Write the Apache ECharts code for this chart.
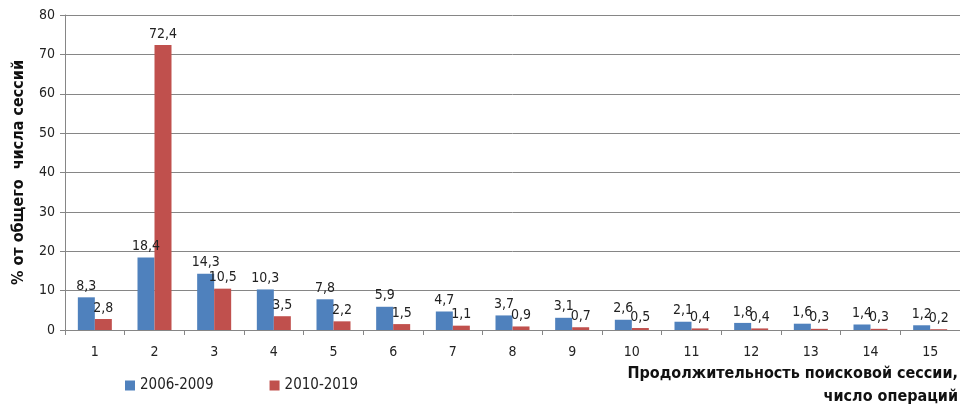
<!DOCTYPE html>
<html><head><meta charset="utf-8">
<script src="https://cdn.jsdelivr.net/npm/echarts@6/dist/echarts.min.js"></script>
<style>html,body{margin:0;padding:0;background:#fff}#c{width:960px;height:409px}</style>
</head><body><div id="c"></div>
<script>
const categories = ['1','2','3','4','5','6','7','8','9','10','11','12','13','14','15'];
const series2006 = [8.3, 18.4, 14.3, 10.3, 7.8, 5.9, 4.7, 3.7, 3.1, 2.6, 2.1, 1.8, 1.6, 1.4, 1.2];
const series2010 = [2.8, 72.4, 10.5, 3.5, 2.2, 1.5, 1.1, 0.9, 0.7, 0.5, 0.4, 0.4, 0.3, 0.3, 0.2];
const seriesNames = ['2006-2009', '2010-2019'];
const yAxisName = '% от общего  числа сессий';
const xAxisNameLines = ['Продолжительность поисковой сессии,', 'число операций'];

const font = '"Liberation Sans Narrow", "DejaVu Sans Condensed", "Liberation Sans", sans-serif';
const chart = echarts.init(document.getElementById('c'));
const lbl = {
  show: true, position: 'top', distance: 4, color: '#222', fontSize: 14, fontFamily: font,
  formatter: p => String(p.value).replace('.', ',')
};
chart.setOption({
  animation: false,
  textStyle: { fontFamily: font },
  grid: { left: 65, right: 0, top: 15, bottom: 79, containLabel: false },
  legend: {
    left: 120, top: 373, itemWidth: 10, itemHeight: 10, itemGap: 56,
    icon: 'rect',
    textStyle: { fontSize: 15, color: '#222', fontFamily: font },
    data: seriesNames
  },
  xAxis: {
    type: 'category', data: categories,
    axisLine: { lineStyle: { color: '#868686' } },
    axisTick: { show: true, length: 5, lineStyle: { color: '#868686' } },
    axisLabel: { color: '#222', fontSize: 14, margin: 15, fontFamily: font }
  },
  yAxis: {
    type: 'value', min: 0, max: 80, interval: 10,
    name: yAxisName, nameLocation: 'middle', nameGap: 38, nameRotate: 90,
    nameTextStyle: { fontSize: 16, fontWeight: 'bold', color: '#111', fontFamily: font },
    axisLine: { show: true, lineStyle: { color: '#868686' } },
    axisTick: { show: true, length: 5, lineStyle: { color: '#868686' } },
    splitLine: { lineStyle: { color: '#868686', width: 1 } },
    axisLabel: { color: '#222', fontSize: 14, margin: 10, fontFamily: font }
  },
  graphic: [
    { type: 'text', right: 2, top: 366,
      style: { text: xAxisNameLines[0], font: 'bold 16px ' + font, fill: '#111' } },
    { type: 'text', right: 2, top: 389,
      style: { text: xAxisNameLines[1], font: 'bold 16px ' + font, fill: '#111' } }
  ],
  series: [
    { name: seriesNames[0], type: 'bar', data: series2006, barGap: '0%', barCategoryGap: '43%',
      itemStyle: { color: '#4F81BD' }, label: lbl },
    { name: seriesNames[1], type: 'bar', data: series2010,
      itemStyle: { color: '#C0504D' }, label: lbl }
  ]
});
</script></body></html>
